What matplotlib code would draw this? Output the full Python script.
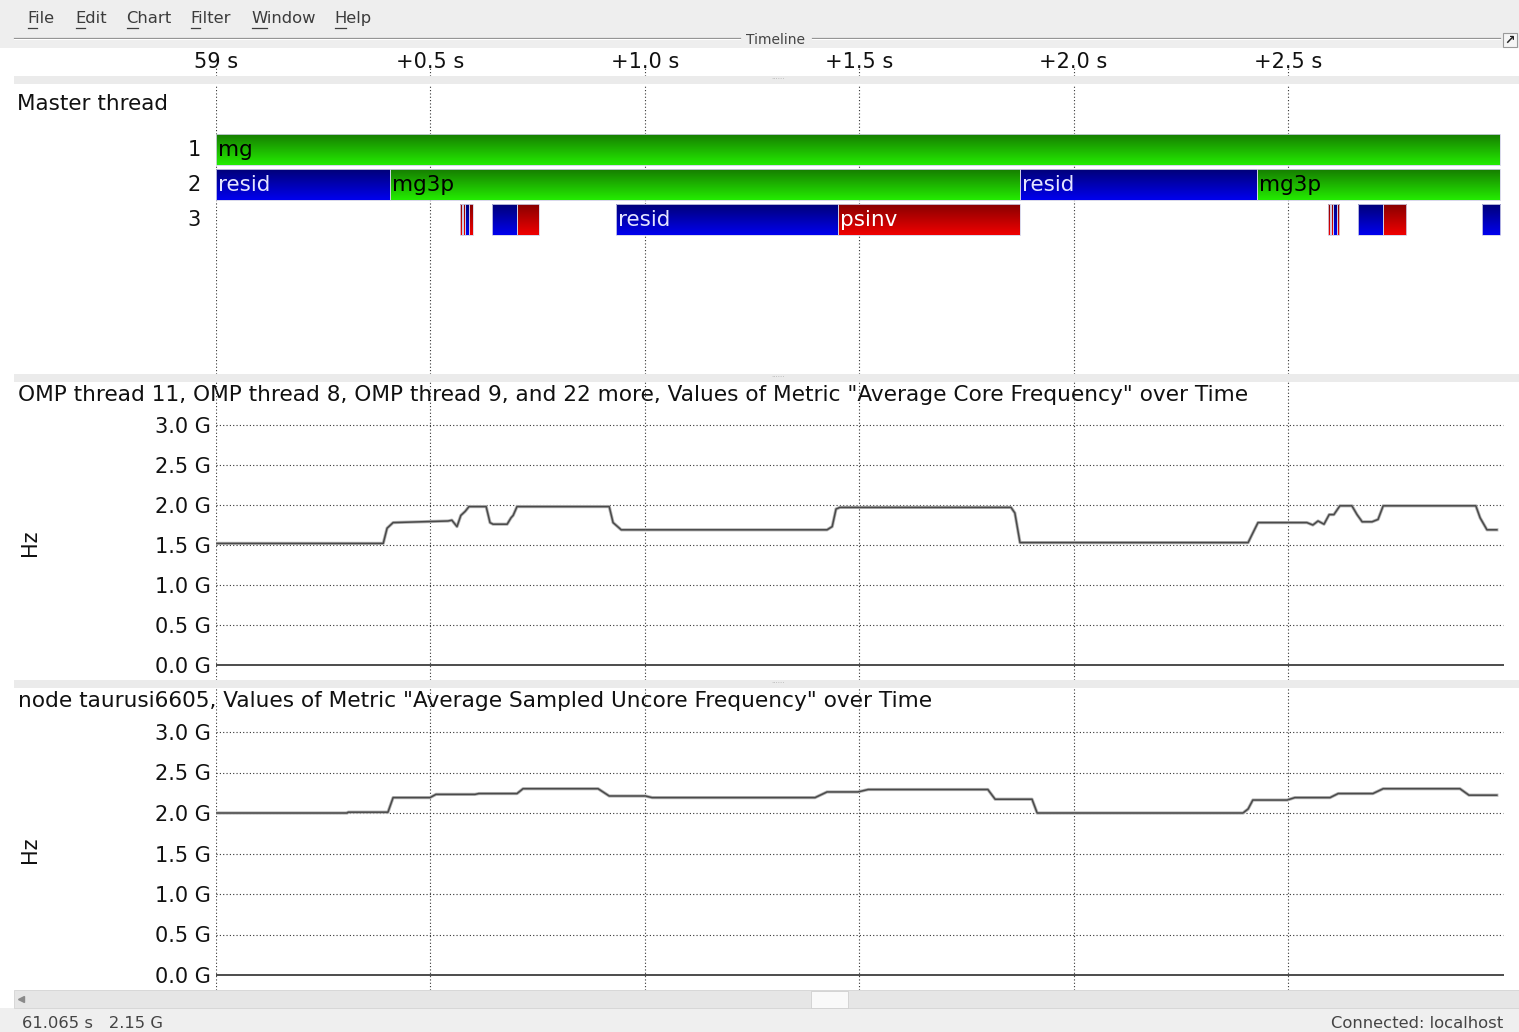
import numpy as np
import matplotlib
matplotlib.use("Agg")
import matplotlib.pyplot as plt
from matplotlib.patches import Rectangle

plt.rcParams['font.family'] = ['DejaVu Sans']

# ---------------------------------------------------------------- data
# time axis: seconds after the 59 s mark
tick_times = [0.0, 0.5, 1.0, 1.5, 2.0, 2.5]
tick_labels = ["59 s", "+0.5 s", "+1.0 s", "+1.5 s", "+2.0 s", "+2.5 s"]

# Master thread call stack, one list per level
row_labels = ["1", "2", "3"]

lvl1_func = ["mg"]
lvl1_start = [0.000]
lvl1_end = [2.994]

lvl2_func = ["resid", "mg3p", "resid", "mg3p"]
lvl2_start = [0.000, 0.406, 1.875, 2.428]
lvl2_end = [0.406, 1.875, 2.428, 2.994]

lvl3_func = ["psinv", "resid", "psinv", "resid", "psinv",
             "resid", "psinv", "resid", "psinv",
             "psinv", "resid", "psinv", "resid", "psinv",
             "resid", "psinv", "resid"]
lvl3_start = [0.569, 0.573, 0.577, 0.581, 0.591,
              0.643, 0.702, 0.933, 1.451,
              2.593, 2.597, 2.601, 2.605, 2.614,
              2.664, 2.721, 2.952]
lvl3_end = [0.573, 0.577, 0.581, 0.591, 0.599,
            0.702, 0.753, 1.451, 1.875,
            2.597, 2.601, 2.604, 2.614, 2.620,
            2.721, 2.775, 2.994]
labelled_funcs_min_width = 0.1

# Average Core Frequency (GHz) of the OMP threads
core_t = [0.000, 0.390, 0.399, 0.413, 0.541, 0.550, 0.562, 0.571, 0.581, 0.590,
          0.630, 0.639, 0.646, 0.679, 0.688, 0.693, 0.702, 0.917, 0.926, 0.945,
          1.425, 1.437, 1.446, 1.455, 1.854, 1.863, 1.875, 2.407, 2.418, 2.430,
          2.544, 2.558, 2.570, 2.584, 2.596, 2.607, 2.621, 2.649, 2.661, 2.673,
          2.696, 2.710, 2.722, 2.938, 2.948, 2.964, 2.987]
core_f = [1.52, 1.52, 1.71, 1.78, 1.80, 1.81, 1.73, 1.87, 1.92, 1.98,
          1.98, 1.78, 1.76, 1.76, 1.84, 1.87, 1.98, 1.98, 1.78, 1.69,
          1.69, 1.73, 1.95, 1.97, 1.97, 1.90, 1.53, 1.53, 1.65, 1.78,
          1.78, 1.75, 1.80, 1.76, 1.88, 1.88, 1.99, 1.99, 1.88, 1.79,
          1.79, 1.82, 1.99, 1.99, 1.84, 1.69, 1.69]

# Average Sampled Uncore Frequency (GHz) of node taurusi6605
uncore_t = [0.000, 0.306, 0.308, 0.401, 0.413, 0.499, 0.513, 0.604, 0.613, 0.702,
            0.716, 0.891, 0.917, 1.001, 1.017, 1.397, 1.425, 1.497, 1.521, 1.800,
            1.817, 1.903, 1.915, 2.395, 2.407, 2.418, 2.498, 2.516, 2.598, 2.617,
            2.698, 2.722, 2.901, 2.922, 2.987]
uncore_f = [2.00, 2.00, 2.01, 2.01, 2.19, 2.19, 2.23, 2.23, 2.24, 2.24,
            2.30, 2.30, 2.21, 2.21, 2.19, 2.19, 2.26, 2.26, 2.29, 2.29,
            2.17, 2.17, 2.00, 2.00, 2.05, 2.16, 2.16, 2.19, 2.19, 2.24,
            2.24, 2.30, 2.30, 2.22, 2.22]

freq_ticks = [0.0, 0.5, 1.0, 1.5, 2.0, 2.5, 3.0]
freq_labels = ["0.0 G", "0.5 G", "1.0 G", "1.5 G", "2.0 G", "2.5 G", "3.0 G"]

menu_items = ["File", "Edit", "Chart", "Filter", "Window", "Help"]

# ---------------------------------------------------------------- layout
W, H, DPI = 1519, 1032, 100
X0, X1 = 216, 1504          # pixel span of the time axis
PX_PER_S = 428.8
T_MAX = (X1 - X0) / PX_PER_S

FS = 15                      # tick / row label size
TITLE_FS = 15.6              # panel title size
UI_FS = 11.8                 # menu / status text size
GRID_KW = dict(color="#333333", lw=0.8, ls=(0, (1, 2)))

func_colors = {
    "mg":    ("#167d00", "#24ec00", "#000000"),
    "mg3p":  ("#167d00", "#24ec00", "#000000"),
    "resid": ("#000078", "#0000ee", "#e4e4ff"),
    "psinv": ("#880000", "#f00000", "#ffffff"),
}

fig = plt.figure(figsize=(W / DPI, H / DPI), dpi=DPI, facecolor="white")

ui = fig.add_axes([0, 0, 1, 1], zorder=0)
ui.set_xlim(0, W)
ui.set_ylim(H, 0)
ui.axis("off")


def px_axes(x0, y0, x1, y1):
    ax = fig.add_axes([x0 / W, 1 - y1 / H, (x1 - x0) / W, (y1 - y0) / H], zorder=2)
    ax.set_facecolor("none")
    for s in ax.spines.values():
        s.set_visible(False)
    ax.set_xlim(0, T_MAX)
    ax.set_xticks([])
    return ax


def band(x, y, w, h, fc, ec="none", lw=0.0, z=1):
    ui.add_patch(Rectangle((x, y), w, h, facecolor=fc, edgecolor=ec, lw=lw, zorder=z))


# ---------------------------------------------------------------- window chrome
band(0, 0, W, 48, "#eeeeee")
menu_x = [27, 75, 126, 190, 251, 334]
for name, x in zip(menu_items, menu_x):
    ui.text(x, 18.5, name, fontsize=UI_FS, color="#3c3c3c", va="center", ha="left", zorder=3)
# underlined mnemonics
ul_w = [9, 9, 11, 9, 15, 11]
for x, w in zip(menu_x, ul_w):
    ui.plot([x + 1, x + 1 + w], [27.5, 27.5], color="#3c3c3c", lw=0.9, zorder=3)

# Timeline frame title
ui.plot([14, 740], [37.5, 37.5], color="#8f8f8f", lw=0.9, zorder=3)
ui.plot([812, 1500], [37.5, 37.5], color="#8f8f8f", lw=0.9, zorder=3)
ui.plot([14, 740], [39, 39], color="#ffffff", lw=0.8, zorder=3)
ui.plot([812, 1500], [39, 39], color="#ffffff", lw=0.8, zorder=3)
ui.text(776, 40.5, "Timeline", fontsize=10, color="#444444", ha="center", va="center", zorder=3)
band(1503, 33, 14, 14, "#f6f6f6", "#9a9a9a", 0.8, z=3)
ui.text(1510, 40.5, "\u2197", fontsize=9, fontweight="bold", color="#222222",
        ha="center", va="center", zorder=4)

# separators between panels
for y in (76, 374, 680):
    band(14, y, W - 14, 8, "#ebebeb")
    ui.text(778, y + 3.2, "\u00b7" * 6, fontsize=5, color="#b0b0b0", ha="center",
            va="center", zorder=3)

# scrollbar and status bar
band(0, 1008, W, H - 1008, "#efefef")
band(14, 990, W - 14, 18, "#e6e6e6", "#d4d4d4", 0.6)
band(811, 990.5, 37, 17, "#f9f9f9", "#cfcfcf", 0.6, z=2)
ui.plot([21], [999], marker="<", ms=4, color="#8a8a8a", zorder=3)
ui.text(22, 1023, "61.065 s   2.15 G", fontsize=UI_FS, color="#444444", va="center", zorder=3)
ui.text(1503, 1023, "Connected: localhost", fontsize=UI_FS, color="#444444",
        va="center", ha="right", zorder=3)

# ---------------------------------------------------------------- time ruler
ruler = px_axes(X0, 48, X1, 76)
ruler.set_ylim(0, 28)
ruler.set_yticks([])
for tt, lab in zip(tick_times, tick_labels):
    ruler.text(tt, 14, lab, fontsize=FS, color="#111111", ha="center", va="center")
ruler.vlines(tick_times, 0, 9.5, **GRID_KW)

# ---------------------------------------------------------------- master thread
ax1 = px_axes(X0, 84, X1, 374)
ROW = 35.0
ylim1 = (1 + (374 - 150) / ROW, 1 - (150 - 84) / ROW)
ax1.set_ylim(*ylim1)
ax1.set_yticks([])
ax1.vlines(tick_times, *ylim1, **GRID_KW, zorder=1)
for i, lab in enumerate(row_labels):
    ax1.annotate(lab, xy=(0, i + 1), xycoords=("axes fraction", "data"),
                 xytext=(-15, -0.5), textcoords="offset pixels", ha="right",
                 va="center", fontsize=FS, color="#111111")
ui.text(17, 104, "Master thread", fontsize=15.5, color="#111111", va="center", zorder=3)

bar_h = 31 / ROW
levels = [(1, lvl1_func, lvl1_start, lvl1_end),
          (2, lvl2_func, lvl2_start, lvl2_end),
          (3, lvl3_func, lvl3_start, lvl3_end)]
for row, funcs, starts, ends in levels:
    for f, s, e in zip(funcs, starts, ends):
        top_c, bot_c, txt_c = func_colors[f]
        bars = ax1.barh(row, e - s, left=s, height=bar_h, color=bot_c,
                        edgecolor="#d2d2e8", lw=0.6, zorder=3)
        patch = bars.patches[0]
        c0 = np.array(matplotlib.colors.to_rgb(top_c))
        c1 = np.array(matplotlib.colors.to_rgb(bot_c))
        g = np.linspace(0, 1, 64)[:, None, None]
        grad = c0 * (1 - g) + c1 * g
        im = ax1.imshow(grad, extent=(s, e, row + bar_h / 2, row - bar_h / 2),
                        aspect="auto", origin="upper", zorder=2, interpolation="bilinear")
        im.set_clip_path(patch)
        patch.set_facecolor("none")
        if e - s > labelled_funcs_min_width:
            ax1.text(s + 0.004, row, f, fontsize=15.5, color=txt_c, ha="left",
                     va="center", zorder=4, clip_on=True)
ax1.set_xlim(0, T_MAX)
ax1.set_ylim(*ylim1)


# ---------------------------------------------------------------- metric panels
def metric_panel(y_top, y_bot, y_zero, px_per_g, t, f, title, title_y, hz_y):
    ax = px_axes(X0, y_top, X1, y_bot)
    ylim = ((y_zero - y_bot) / px_per_g, (y_zero - y_top) / px_per_g)
    ax.set_ylim(*ylim)
    ax.vlines(tick_times, *ylim, **GRID_KW, zorder=1)
    grid_end = (1503 - X0) / PX_PER_S
    ax.hlines(freq_ticks[1:], 0, grid_end, **GRID_KW, zorder=1)
    ax.hlines(0, 0, (1505 - X0) / PX_PER_S, color="#2e2e2e", lw=1.2, zorder=2)
    ax.set_yticks(freq_ticks, freq_labels)
    ax.tick_params(axis="y", length=0, pad=3.5, labelsize=FS, labelcolor="#111111")
    ax.plot(t, f, color="#b4b4b4", lw=2.3, solid_joinstyle="round", zorder=3)
    ax.plot(t, f, color="#4a4a4a", lw=1.1, solid_joinstyle="round", zorder=4)
    ax.set_xlim(0, T_MAX)
    ui.text(18, title_y, title, fontsize=TITLE_FS, color="#111111", va="center", zorder=3)
    ui.text(30, hz_y, "Hz", fontsize=FS, color="#111111", va="center", ha="center",
            rotation=90, zorder=3)
    return ax


metric_panel(382, 680, 665, 80.0, core_t, core_f,
             'OMP thread 11, OMP thread 8, OMP thread 9, and 22 more, Values of Metric '
             '"Average Core Frequency" over Time', 395, 543)
metric_panel(688, 990, 975, 81.0, uncore_t, uncore_f,
             'node taurusi6605, Values of Metric "Average Sampled Uncore Frequency" over Time',
             701, 850)

fig.savefig("out.png", dpi=DPI, facecolor="white")
